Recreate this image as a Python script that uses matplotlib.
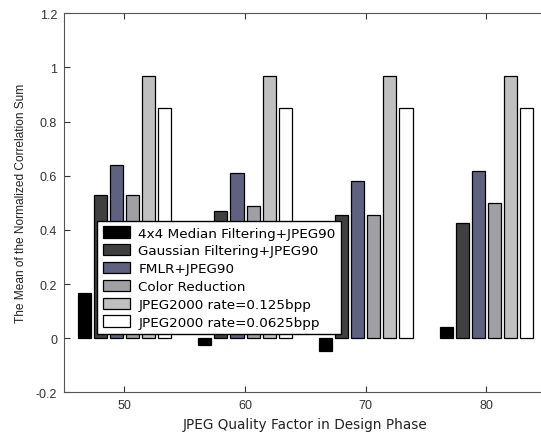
import numpy as np
import matplotlib
matplotlib.use('Agg')
import matplotlib.pyplot as plt

plt.rcParams['font.family'] = ['Liberation Sans', 'DejaVu Sans']

quality = [50, 60, 70, 80]
labels = ['4x4 Median Filtering+JPEG90',
          'Gaussian Filtering+JPEG90',
          'FMLR+JPEG90',
          'Color Reduction',
          'JPEG2000 rate=0.125bpp',
          'JPEG2000 rate=0.0625bpp']
median = [0.166, -0.026, -0.047, 0.043]
gaussian = [0.53, 0.47, 0.456, 0.427]
fmlr = [0.64, 0.609, 0.581, 0.618]
color_red = [0.53, 0.49, 0.454, 0.50]
j2k_125 = [0.97, 0.97, 0.97, 0.97]
j2k_0625 = [0.85, 0.85, 0.85, 0.85]

series = [median, gaussian, fmlr, color_red, j2k_125, j2k_0625]
colors = ['#000000', '#404040', '#606080', '#a0a0a4', '#c0c0c0', '#ffffff']

fig = plt.figure(figsize=(5.41, 4.39), dpi=100)
ax = fig.add_axes([64/541, 1 - 393.3/439, 482.8/541, 379/439])

slot = 8.0 / 6
x = np.array(quality, dtype=float)
for i, (vals, c, lab) in enumerate(zip(series, colors, labels)):
    off = (i - 2.5) * slot
    ax.bar(x + off, vals, width=1.08, color=c, edgecolor='black',
           linewidth=0.9, label=lab)

ax.set_xlim(45, 85)
ax.set_ylim(-0.2, 1.2)
ax.set_xticks(quality)
ax.set_yticks([-0.2, 0, 0.2, 0.4, 0.6, 0.8, 1, 1.2])
ax.set_yticklabels(['-0.2', '0', '0.2', '0.4', '0.6', '0.8', '1', '1.2'])
ax.tick_params(direction='in', top=True, right=False, length=4,
               labelsize=9, colors='#333333', pad=5)
ax.spines['right'].set_visible(False)
for s in ax.spines.values():
    s.set_color('#555555')
    s.set_linewidth(0.8)

ax.set_xlabel('JPEG Quality Factor in Design Phase', fontsize=9.8,
              color='#222222', family='DejaVu Sans', labelpad=4)
ax.set_ylabel('The Mean of the Normalized Correlation Sum', fontsize=8.6,
              color='#222222', labelpad=6)

leg = ax.legend(loc='upper left', bbox_to_anchor=(0.069, 0.452),
                borderaxespad=0, prop={'family': 'DejaVu Sans', 'size': 9.7},
                fancybox=False, framealpha=1, edgecolor='black',
                handlelength=2.0, handleheight=0.9, labelspacing=0.34,
                handletextpad=0.63, borderpad=0.4)
leg.get_frame().set_linewidth(1.0)

fig.savefig('out.png', dpi=100)
